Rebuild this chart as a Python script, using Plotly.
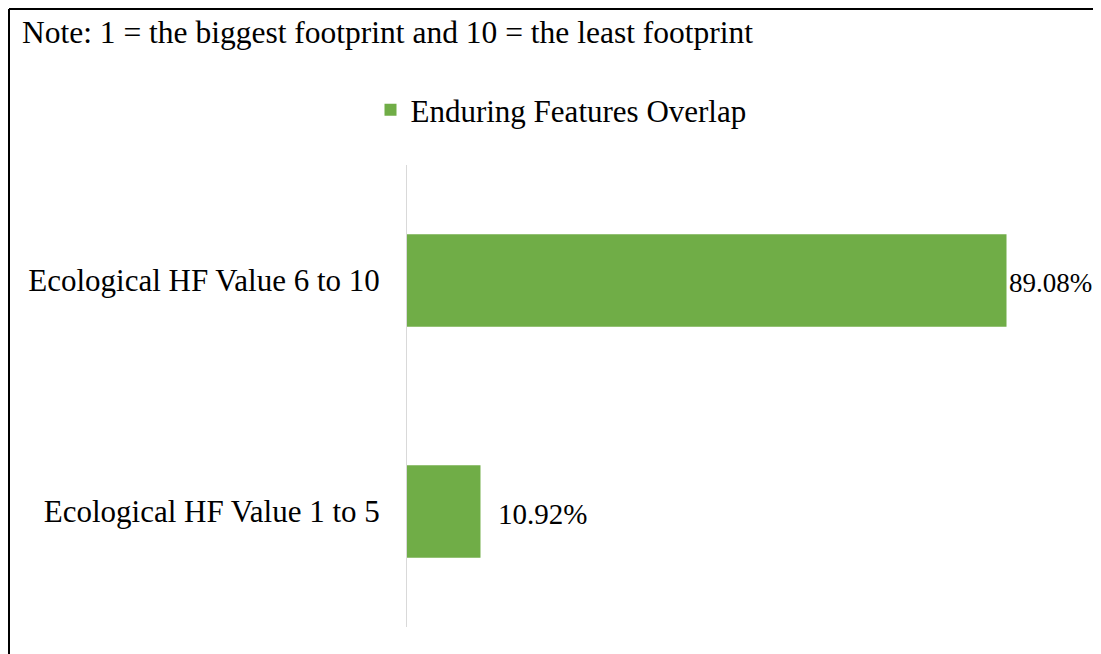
import plotly.graph_objects as go

categories = ["Ecological HF Value 1 to 5", "Ecological HF Value 6 to 10"]
values = [10.92, 89.08]
labels = ["10.92%", "89.08%"]
series_name = "Enduring Features Overlap"
note = "Note: 1 = the biggest footprint and 10 = the least footprint"

OFF = 8  # browser default body margin
W, H = 1101 - OFF, 654 - OFF
L, R, T, B = 407 - OFF, 21, 165 - OFF, 27
pw, ph = W - L - R, H - T - B

def px(x):
    return (x - OFF - L) / pw

def py(y):
    return (H - B - (y - OFF)) / ph

FONT = "Liberation Serif"
FS = 31

fig = go.Figure()
fig.add_trace(go.Bar(
    y=categories, x=values, orientation="h", name=series_name,
    marker=dict(color="#70ad47", line=dict(width=0)),
    showlegend=True,
))

annotations = []
shifts = [16, 0]
sizes = [29, 27]
for c, v, t, s, fs in zip(categories, values, labels, shifts, sizes):
    annotations.append(dict(x=v, y=c, xref="x", yref="y", text=t, showarrow=False,
                            xanchor="left", xshift=s, yshift=-2,
                            font=dict(family=FONT, size=fs, color="#000")))
annotations.append(dict(x=px(20), y=py(32), xref="paper", yref="paper", text=note,
                        showarrow=False, xanchor="left", yanchor="middle",
                        font=dict(family=FONT, size=31.5, color="#000")))

fig.update_layout(
    width=W, height=H,
    margin=dict(l=L, r=R, t=T, b=B),
    paper_bgcolor="white", plot_bgcolor="white",
    bargap=0.6,
    font=dict(family=FONT, size=FS, color="#000"),
    legend=dict(orientation="h", x=px(561), xanchor="center", y=py(110), yanchor="middle",
                font=dict(family=FONT, size=FS, color="#000"), itemwidth=30),
    xaxis=dict(range=[0, 100], showgrid=False, zeroline=False, showticklabels=False,
               showline=False, ticks=""),
    yaxis=dict(showgrid=False, zeroline=False, showline=True, linecolor="#d9d9d9",
               linewidth=1, ticks="", ticklabelstandoff=20,
               tickfont=dict(family=FONT, size=FS, color="#000")),
    annotations=annotations,
    shapes=[
        dict(type="line", xref="paper", yref="paper", x0=px(9), x1=px(1110), y0=py(9), y1=py(9),
             line=dict(color="#000", width=2)),
        dict(type="line", xref="paper", yref="paper", x0=px(9), x1=px(9), y0=py(9), y1=py(660),
             line=dict(color="#000", width=2)),
    ],
)

fig.write_html("out.html")
